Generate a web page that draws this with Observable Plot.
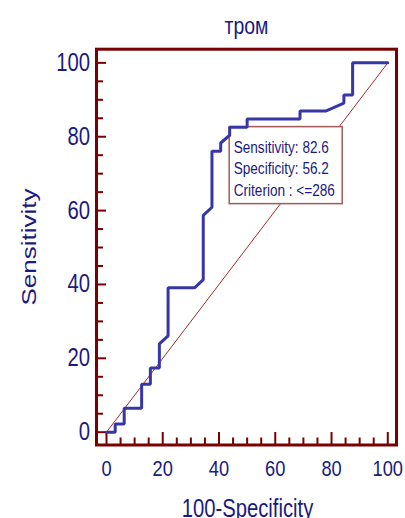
<!DOCTYPE html>
<html>
<head>
<meta charset="utf-8">
<script src="https://cdn.jsdelivr.net/npm/d3@7"></script>
<script src="https://cdn.jsdelivr.net/npm/@observablehq/plot@0.6"></script>
<style>
  html, body { margin: 0; padding: 0; background: #fff; }
</style>
</head>
<body>
<div id="chart"></div>
<script>
// ROC curve: 100-Specificity (x) vs Sensitivity (y)
const fpr = [0, 3.1, 3.1, 6.3, 6.3, 12.5, 12.5, 15.6, 15.6, 18.8, 18.8, 21.9, 21.9, 31.3, 34.4, 34.4, 37.5, 37.5, 40.6, 40.6, 43.8, 43.8, 50.0, 50.0, 68.8, 68.8, 78.1, 84.4, 84.4, 87.5, 87.5, 100];
const tpr = [0, 0, 2.2, 2.2, 6.5, 6.5, 13.0, 13.0, 17.4, 17.4, 23.9, 26.1, 39.1, 39.1, 41.3, 58.7, 60.9, 76.1, 76.1, 78.3, 80.4, 82.6, 82.6, 84.8, 84.8, 87.0, 87.0, 89.1, 91.3, 91.3, 100, 100];
const diagX = [0, 100];
const diagY = [0, 100];
const majorTicks = [0, 20, 40, 60, 80, 100];
const minorTicks = [5, 10, 15, 25, 30, 35, 45, 50, 55, 65, 70, 75, 85, 90, 95];
const sensitivity = 82.6;
const specificity = 56.2;
const criterion = "<=286";
const title = "тром";
const xLabel = "100-Specificity";
const yLabel = "Sensitivity";

const curve = fpr.map((x, i) => ({x, y: tpr[i]}));
const diag = diagX.map((x, i) => ({x, y: diagY[i]}));
const crit = [{x: 100 - specificity, y: sensitivity}];
const boxText = [
  `Sensitivity: ${sensitivity}`,
  `Specificity: ${specificity}`,
  `Criterion : ${criterion}`
].join("\n");

const W = 405, H = 518;
const mL = 96, mR = 9, mT = 48.7, mB = 73.5;
const frameW = W - mL - mR, frameH = H - mT - mB;
const navy = "#1a1a80";
const maroon = "#780000";
const font = "'Liberation Sans', Arial, sans-serif";
const squeeze = 0.81;

const chart = Plot.plot({
  width: W,
  height: H,
  marginLeft: mL,
  marginRight: mR,
  marginTop: mT,
  marginBottom: mB,
  x: {domain: [-3.55, 103.1], label: null},
  y: {domain: [-3.47, 103.7], label: null},
  style: {background: "#fff", fontFamily: font},
  marks: [
    // ticks inside the frame
    Plot.tickX(majorTicks, {x: d => d, insetTop: frameH - 12.5, stroke: maroon, strokeWidth: 2}),
    Plot.tickX(minorTicks, {x: d => d, insetTop: frameH - 7, stroke: maroon, strokeWidth: 2}),
    Plot.tickY(majorTicks, {y: d => d, insetRight: frameW - 10, stroke: maroon, strokeWidth: 2}),
    Plot.tickY(minorTicks, {y: d => d, insetRight: frameW - 7, stroke: maroon, strokeWidth: 2}),
    // tick values
    Plot.axisX(majorTicks, {tickSize: 0, tickPadding: 14.8, fontSize: 22.5, color: navy, fontFamily: font, label: null}),
    Plot.axisY(majorTicks, {tickSize: 0, tickPadding: 6.5, fontSize: 25, color: navy, fontFamily: font, label: null}),
    // diagonal reference
    Plot.line(diag, {x: "x", y: "y", stroke: "#a52a2a", strokeWidth: 1}),
    // criterion box
    Plot.rect(crit, {x1: "x", x2: "x", y1: "y", y2: "y", insetRight: -113, insetBottom: -77, fill: "#fff", stroke: "#a05a5a", strokeWidth: 1.5}),
    Plot.text(crit, {x: "x", y: "y", text: () => boxText, textAnchor: "start", lineAnchor: "top", dx: 4, dy: 10, fontSize: 16.8, lineHeight: 1.29, fill: navy, fontFamily: font}),
    // ROC curve
    Plot.line(curve, {x: "x", y: "y", stroke: "#3636a6", strokeWidth: 3, strokeLinejoin: "miter", curve: "linear"}),
    // frame
    Plot.frame({stroke: maroon, strokeWidth: 3}),
    // titles
    Plot.text([title], {frameAnchor: "top", text: d => d, textAnchor: "middle", lineAnchor: "top", dy: -32.6, fontSize: 24, fill: navy, fontFamily: font}),
    Plot.text([xLabel], {frameAnchor: "bottom", text: d => d, textAnchor: "middle", lineAnchor: "top", dy: 53.8, dx: 1, fontSize: 25, fill: navy, fontFamily: font}),
    Plot.text([yLabel], {frameAnchor: "left", text: d => d, textAnchor: "middle", lineAnchor: "middle", rotate: -90, dx: -67.5, fontSize: 26, fill: navy, fontFamily: font})
  ]
});

// the reference's lettering is horizontally condensed: squeeze every text around its anchor
d3.select(chart).selectAll("text").each(function() {
  const t = d3.select(this);
  const tr = t.attr("transform");
  if (tr && /translate\(/.test(tr)) {
    t.attr("transform", tr.replace(/(translate\([^)]*\))/, `$1 scale(${squeeze},1)`));
  } else {
    const x = +(t.attr("x") || 0), y = +(t.attr("y") || 0);
    t.attr("x", null).attr("y", null);
    t.attr("transform", `translate(${x},${y}) scale(${squeeze},1)` + (tr ? " " + tr : ""));
  }
});

document.getElementById("chart").appendChild(chart);
</script>
</body>
</html>
